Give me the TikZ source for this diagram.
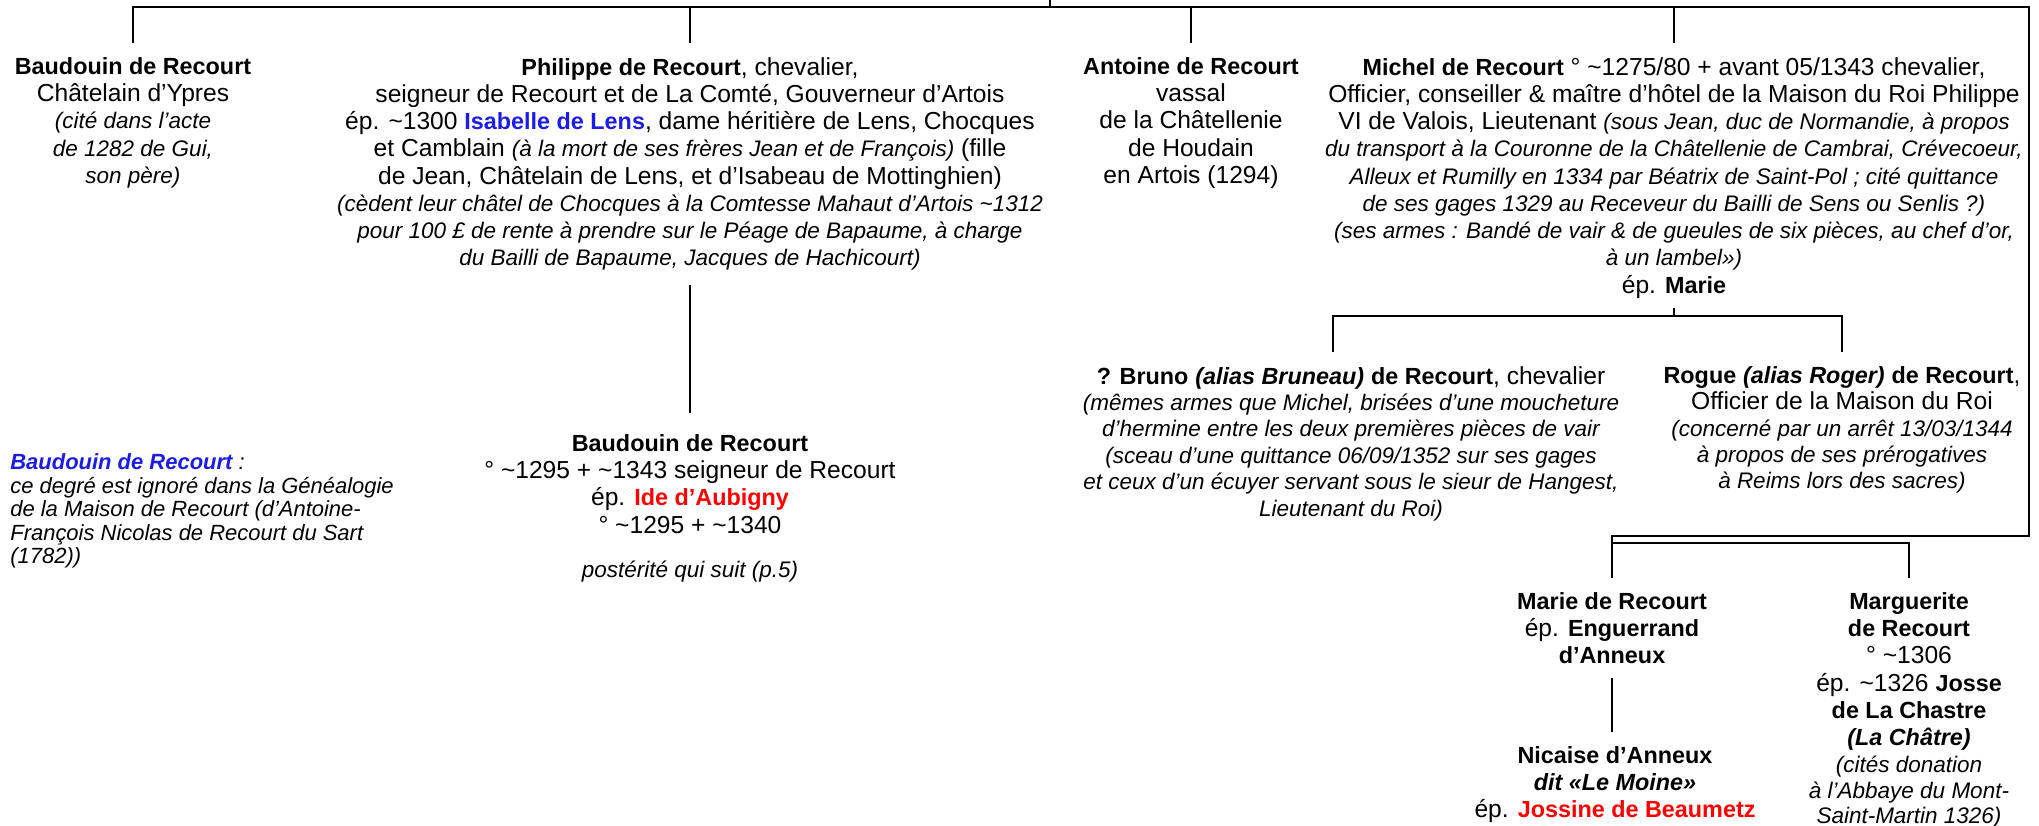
\documentclass[tikz,border=0pt]{standalone}
\usepackage{fontspec}
\setmainfont{Liberation Sans}

\definecolor{lensblue}{RGB}{28,28,232}
\definecolor{heirred}{RGB}{255,0,0}
\newcommand{\pers}[1]{{\fontsize{13.3}{15.5}\selectfont\bfseries #1}}
\newcommand{\rmk}[1]{{\fontsize{12.8}{15.5}\selectfont\itshape #1}}
\newcommand{\vers}{\textasciitilde}

\begin{document}
\begin{tikzpicture}[
    person/.style={align=center,anchor=north,inner xsep=0pt,inner ysep=8pt,font=\fontsize{14}{15.5}\selectfont},
    tight/.style={font=\fontsize{14}{15}\selectfont},
    remark/.style={align=left,anchor=north west,inner sep=0pt,font=\fontsize{12.5}{13.4}\selectfont\itshape},
    link/.style={line width=1.3pt}
    ]
    \useasboundingbox (0,0) rectangle (40.78,-16.5);

    \node (baudouin) [person] at (2.66,-0.86) {
      \pers{Baudouin de Recourt}\\
      Châtelain d’Ypres\\
      \rmk{(cité dans l’acte}\\
      \rmk{de 1282 de Gui,}\\
      \rmk{son père)}
    };

    \node (philippe) [person] at (13.8,-0.86) {
      \pers{Philippe de Recourt}, chevalier,\\
      seigneur de Recourt et de La Comté, Gouverneur d’Artois\\
      ép. \vers1300 \pers{\color{lensblue}Isabelle de Lens}, dame héritière de Lens, Chocques\\
      et Camblain \rmk{(à la mort de ses frères Jean et de François)} (fille\\
      de Jean, Châtelain de Lens, et d’Isabeau de Mottinghien)\\
      \rmk{(cèdent leur châtel de Chocques à la Comtesse Mahaut d’Artois \vers1312}\\
      \rmk{pour 100 £ de rente à prendre sur le Péage de Bapaume, à charge}\\
      \rmk{du Bailli de Bapaume, Jacques de Hachicourt)}
    };

    \node (antoine) [person] at (23.82,-0.86) {
      \pers{Antoine de Recourt}\\
      vassal\\
      de la Châtellenie\\
      de Houdain\\
      en Artois (1294)
    };

    \node (michel) [person,text depth=0pt] at (33.48,-0.86) {
      \pers{Michel de Recourt} ° \vers1275/80 + avant 05/1343 chevalier,\\
      Officier, conseiller \& maître d’hôtel de la Maison du Roi Philippe\\
      VI de Valois, Lieutenant \rmk{(sous Jean, duc de Normandie, à propos}\\
      \rmk{du transport à la Couronne de la Châtellenie de Cambrai, Crévecoeur,}\\
      \rmk{Alleux et Rumilly en 1334 par Béatrix de Saint-Pol ; cité quittance}\\
      \rmk{de ses gages 1329 au Receveur du Bailli de Sens ou Senlis ?)}\\
      \rmk{(ses armes : Bandé de vair \& de gueules de six pièces, au chef d’or,}\\
      \rmk{à un lambel»)}\\
      ép. \pers{Marie}
    };

    \node (baudouin2) [person,inner ysep=12pt] at (13.8,-8.26) {
      \pers{Baudouin de Recourt}\\
      ° \vers1295 + \vers1343 seigneur de Recourt\\
      ép. \pers{\color{heirred}Ide d’Aubigny}\\
      ° \vers1295 + \vers1340\\[10pt]
      \rmk{postérité qui suit (p.5)}
    };

    \node (degre) [remark] at (0.2,-9.07) {
      \textbf{\color{lensblue}Baudouin de Recourt} :\\
      ce degré est ignoré dans la Généalogie\\
      de la Maison de Recourt (d’Antoine-\\
      François Nicolas de Recourt du Sart\\
      (1782))
    };

    \node (bruno) [person,tight] at (27.02,-7.04) {
      \pers{? Bruno} \pers{\itshape(alias Bruneau)} \pers{de Recourt}, chevalier\\
      \rmk{(mêmes armes que Michel, brisées d’une moucheture}\\
      \rmk{d’hermine entre les deux premières pièces de vair}\\
      \rmk{(sceau d’une quittance 06/09/1352 sur ses gages}\\
      \rmk{et ceux d’un écuyer servant sous le sieur de Hangest,}\\
      \rmk{Lieutenant du Roi)}
    };

    \node (rogue) [person,tight] at (36.84,-7.04) {
      \pers{Rogue} \pers{\itshape(alias Roger)} \pers{de Recourt},\\
      Officier de la Maison du Roi\\
      \rmk{(concerné par un arrêt 13/03/1344}\\
      \rmk{à propos de ses prérogatives}\\
      \rmk{à Reims lors des sacres)}
    };

    \node (marie) [person] at (32.24,-11.56) {
      \pers{Marie de Recourt}\\
      ép. \pers{Enguerrand}\\
      \pers{d’Anneux}
    };

    \node (marguerite) [person] at (38.18,-11.56) {
      \pers{Marguerite}\\
      \pers{de Recourt}\\
      ° \vers1306\\
      ép. \vers1326 \pers{Josse}\\
      \pers{de La Chastre}\\
      \pers{\itshape(La Châtre)}\\
      \rmk{(cités donation}\\[-1pt]
      \rmk{à l’Abbaye du Mont-}\\[-1pt]
      \rmk{Saint-Martin 1326)}
    };

    \node (nicaise) [person] at (32.3,-14.64) {
      \pers{Nicaise d’Anneux}\\
      \pers{\itshape dit «Le Moine»}\\
      ép. \pers{\color{heirred}Jossine de Beaumetz}
    };

    \coordinate (topright) at (40.58,-0.14);
    \coordinate (topstub) at (21,0);
    \coordinate (sonsbar) at (26.66,-6.32);
    \coordinate (daughters) at (32.24,-10.72);
    \coordinate (sistersbar) at (38.18,-10.86);

    \draw[link] (baudouin.north) |- (topright) |- (daughters) -- (daughters |- marie.north);
    \draw[link] (topstub) -- (topstub |- topright);
    \foreach \n in {philippe,antoine,michel}
      \draw[link] (\n.north) -- (\n.north |- topright);

    \draw[link] (philippe.south) -- (baudouin2.north);
    \draw[link] (michel.south) -- (michel.south |- sonsbar);
    \draw[link] (sonsbar |- bruno.north) -- (sonsbar) -| (rogue.north);
    \draw[link] (daughters |- sistersbar) -- (sistersbar) -- (marguerite.north);
    \draw[link] (marie.south) -- (marie.south |- nicaise.north);

  \end{tikzpicture}
\end{document}
